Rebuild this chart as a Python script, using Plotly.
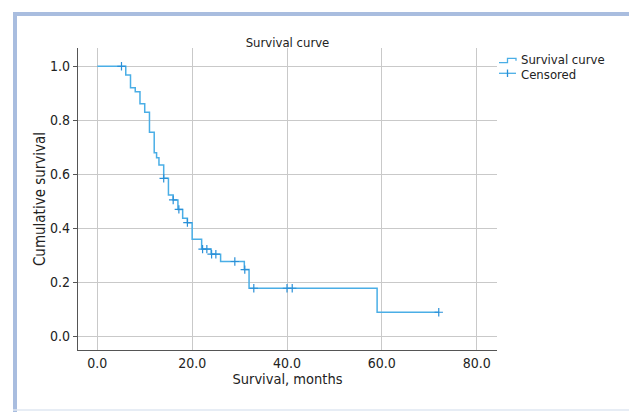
import plotly.graph_objects as go

# ---- data ----
step_times = [0, 6, 7, 8, 9, 10, 11, 12, 12.5, 13, 14, 15, 16, 17, 18, 19, 20, 22, 24, 26, 31, 32, 59, 72]
step_surv = [1.0, 0.968, 0.921, 0.906, 0.861, 0.830, 0.756, 0.680, 0.661, 0.634, 0.585, 0.523,
             0.505, 0.470, 0.437, 0.421, 0.359, 0.323, 0.304, 0.277, 0.247, 0.178, 0.089, 0.089]
censor_times = [5.1, 14.0, 16.0, 17.2, 19.0, 22.2, 23.1, 24.1, 25.0, 29.0, 31.1, 33.0, 40.0, 41.1, 72.0]
x_ticks = [0, 20, 40, 60, 80]
y_ticks = [0.0, 0.2, 0.4, 0.6, 0.8, 1.0]


def surv_at(t):
    s = step_surv[0]
    for tt, ss in zip(step_times, step_surv):
        if tt <= t:
            s = ss
    return s


censor_surv = [surv_at(t) for t in censor_times]

FONT = "DejaVu Sans Condensed, Liberation Sans Narrow, sans-serif"
LINE_C = "#4aaee6"
MARK_C = "#2a90d8"
GRID_C = "#c9c9c9"
AXIS_C = "#555555"
TXT_C = "#222222"

OFF = 8  # page body margin
W, H = 637 - OFF, 412 - OFF
# plot-area edges in reference-window pixels
L, R, T, B = 78, 497, 48, 350
Y0, Y1 = 336.3, 66.3  # pixel rows of 0.0 and 1.0
X0, X80 = 97.3, 476.7  # pixel columns of 0 and 80


def px(xp):
    return (xp - L) / (R - L)


def py(yp):
    return (B - yp) / (B - T)


yr = [(Y0 - B) / (Y0 - Y1), (Y0 - T) / (Y0 - Y1)]
xr = [(L - X0) / (X80 - X0) * 80, (R - X0) / (X80 - X0) * 80]

fig = go.Figure()
fig.add_trace(go.Scatter(x=step_times, y=step_surv, mode="lines", line=dict(color=LINE_C, width=1.5, shape="hv"),
                         name="Survival curve", showlegend=False, hoverinfo="skip"))
fig.add_trace(go.Scatter(x=censor_times, y=censor_surv, mode="markers",
                         marker=dict(symbol="cross-thin", size=6, line=dict(color=MARK_C, width=1.2)),
                         name="Censored", showlegend=False, hoverinfo="skip"))

shapes = []
# outer frame
FR = "#a9bddf"
shapes.append(dict(type="rect", xref="paper", yref="paper", x0=px(13), x1=px(17), y0=py(412), y1=py(12),
                   fillcolor=FR, line=dict(width=0), layer="below"))
shapes.append(dict(type="rect", xref="paper", yref="paper", x0=px(13), x1=px(637), y0=py(16), y1=py(12),
                   fillcolor=FR, line=dict(width=0), layer="below"))
shapes.append(dict(type="line", xref="paper", yref="paper", x0=px(635.5), x1=px(635.5), y0=py(412), y1=py(12),
                   line=dict(color="#d5e0ef", width=1.5), layer="below"))
shapes.append(dict(type="line", xref="paper", yref="paper", x0=px(13), x1=px(637), y0=py(410), y1=py(410),
                   line=dict(color="#dfe7f2", width=1.5), layer="below"))
# legend icons
shapes.append(dict(type="path", xref="paper", yref="paper",
                   path=f"M {px(499)} {py(62.7)} L {px(507.5)} {py(62.7)} L {px(507.5)} {py(58.3)} "
                        f"L {px(516)} {py(58.3)} L {px(516)} {py(60.8)}",
                   line=dict(color=LINE_C, width=1.3)))
shapes.append(dict(type="line", xref="paper", yref="paper", x0=px(499), x1=px(516), y0=py(73.3), y1=py(73.3),
                   line=dict(color=LINE_C, width=1.3)))
shapes.append(dict(type="line", xref="paper", yref="paper", x0=px(507.5), x1=px(507.5), y0=py(69.5), y1=py(77),
                   line=dict(color=MARK_C, width=1.3)))

annotations = [
    dict(text="Survival curve", xref="paper", yref="paper", x=px(520), y=py(59.5), xanchor="left", yanchor="middle",
         showarrow=False, borderpad=0, font=dict(family=FONT, size=13, color=TXT_C)),
    dict(text="Censored", xref="paper", yref="paper", x=px(520), y=py(74), xanchor="left", yanchor="middle",
         showarrow=False, borderpad=0, font=dict(family=FONT, size=13, color=TXT_C)),
]

fig.update_layout(
    width=W, height=H,
    margin=dict(l=L - OFF, r=(637 - R), t=T - OFF, b=(412 - B), autoexpand=False),
    paper_bgcolor="white", plot_bgcolor="white",
    title=dict(text="Survival curve", x=(287.5 - OFF) / W, xanchor="center",
               y=1 - (42 - OFF) / H, yanchor="middle", font=dict(family=FONT, size=13, color=TXT_C)),
    font=dict(family=FONT, color=TXT_C),
    shapes=shapes, annotations=annotations,
    showlegend=False,
)
fig.update_xaxes(range=xr, tickvals=x_ticks, ticktext=[f"{v:.1f}" for v in x_ticks],
                 automargin=False,
                 showgrid=True, gridcolor=GRID_C, gridwidth=1.3, zeroline=False,
                 showline=True, linecolor=AXIS_C, linewidth=1.3, ticks="",
                 tickfont=dict(family=FONT, size=14, color=TXT_C),
                 title=dict(text="Survival, months", font=dict(family=FONT, size=14.5, color=TXT_C), standoff=2))
fig.update_yaxes(range=yr, tickvals=y_ticks, ticktext=[f"{v:.1f}" for v in y_ticks],
                 automargin=False,
                 showgrid=True, gridcolor=GRID_C, gridwidth=1.3, zeroline=False,
                 showline=True, linecolor=AXIS_C, linewidth=1.3, ticks="outside", ticklen=4, tickcolor=AXIS_C,
                 tickfont=dict(family=FONT, size=14, color=TXT_C),
                 title=dict(text="Cumulative survival", font=dict(family=FONT, size=15, color=TXT_C), standoff=0))

fig.write_html("out.html")
